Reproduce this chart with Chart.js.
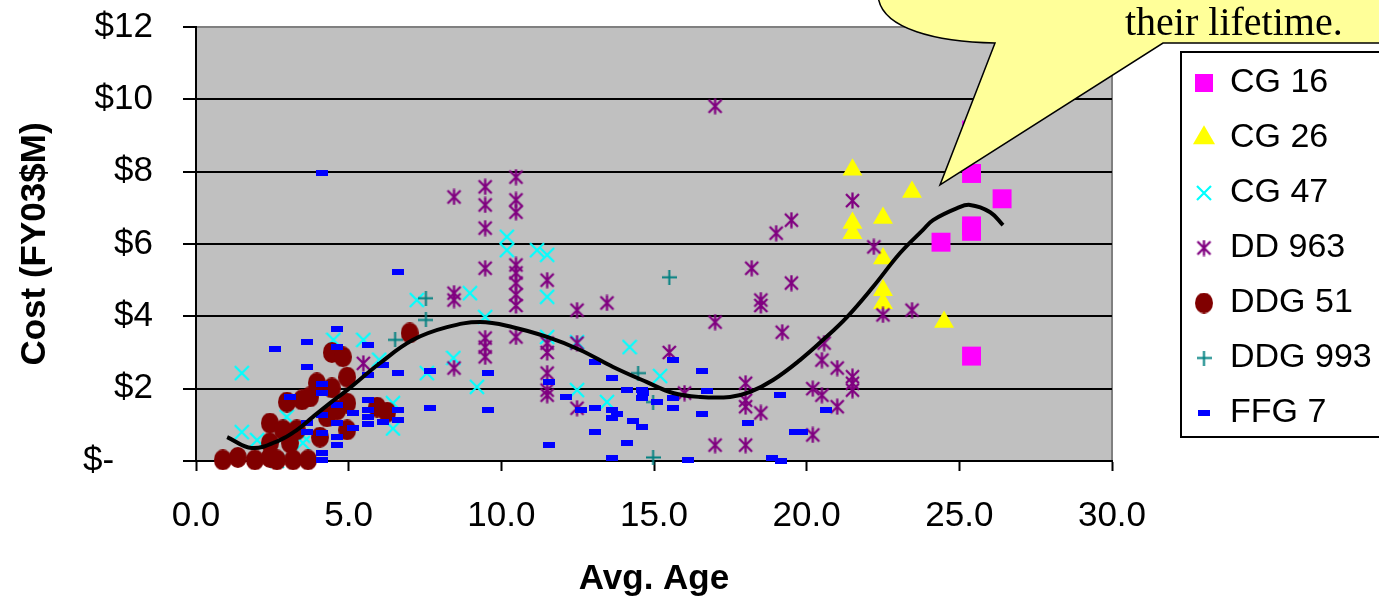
<!DOCTYPE html>
<html>
<head>
<meta charset="utf-8">
<script src="https://cdn.jsdelivr.net/npm/chart.js@4.4.1/dist/chart.umd.min.js"></script>
<style>
  html, body { margin: 0; padding: 0; background: #fff; }
  #wrap { width: 1379px; height: 600px; position: relative; }
</style>
</head>
<body>
<div id="wrap"><canvas id="cost-chart"></canvas></div>
<script>
// data: [avg age, cost $M]
var cg16 = [[24.4,6.05],[25.4,9.15],[25.4,7.95],[25.4,6.5],[25.4,6.35],[25.4,2.9],[26.4,7.25]];
var cg26 = [[21.5,8.05],[23.45,7.44],[22.5,6.72],[21.5,6.58],[21.5,6.3],[22.5,5.6],[22.5,4.72],[22.5,4.36],[24.5,3.84]];
var cg47 = [[1.5,2.43],[1.5,0.8],[2.0,0.58],[2.65,0.0],[2.97,1.22],[3.5,0.5],[3.5,0.7],[4.5,3.35],[5.48,3.35],
  [6.0,2.8],[6.45,1.6],[6.45,0.9],[7.23,4.45],[7.56,2.43],[8.43,2.85],[8.97,4.64],[9.2,2.05],[9.47,3.98],
  [10.18,6.2],[10.18,5.83],[11.17,5.83],[11.5,5.7],[11.5,4.54],[11.5,3.43],[12.48,3.29],[12.48,1.96],
  [13.46,1.63],[14.2,3.15],[15.2,2.35]];
var dd963 = [[5.48,2.7],[8.45,7.3],[8.45,4.64],[8.45,4.45],[8.45,2.57],[9.47,7.58],[9.47,7.08],[9.47,6.44],
  [9.47,5.33],[9.47,3.4],[9.47,3.15],[9.47,2.88],[10.48,7.85],[10.48,7.22],[10.48,6.88],[10.48,5.42],
  [10.48,5.2],[10.48,4.92],[10.48,4.6],[10.48,4.3],[10.48,3.43],[11.5,5.0],[11.5,3.26],[11.5,3.0],
  [11.5,2.43],[11.5,1.96],[11.5,1.82],[12.48,4.17],[12.48,3.26],[12.48,1.46],[13.46,4.37],[15.5,3.0],
  [16.0,1.88],[17.0,9.81],[17.0,3.84],[17.0,0.44],[18.0,2.15],[18.0,1.68],[18.0,1.5],[18.0,0.44],
  [18.2,5.33],[18.5,4.45],[18.5,4.3],[18.5,1.33],[19.0,6.3],[19.2,3.56],[19.5,6.66],[19.5,4.92],
  [20.2,2.0],[20.2,0.72],[20.5,2.79],[20.5,1.82],[20.57,3.26],[21.0,2.57],[21.0,1.5],[21.5,7.2],
  [21.5,2.33],[21.5,2.15],[21.5,1.96],[22.2,5.92],[22.5,4.04],[23.45,4.17]];
var ddg51 = [[0.88,0.03],[1.37,0.1],[1.93,0.03],[2.42,0.1],[2.42,0.5],[2.42,1.05],[2.65,0.03],[2.85,0.86],
  [2.98,1.63],[3.08,0.5],[3.18,0.03],[3.3,0.86],[3.47,1.69],[3.67,0.03],[3.73,1.77],[3.96,2.16],
  [4.06,0.66],[4.29,1.22],[4.45,3.0],[4.45,2.02],[4.62,1.41],[4.81,2.88],[4.95,2.32],[4.95,1.6],
  [4.95,0.86],[5.93,1.49],[6.26,1.35],[7.0,3.54]];
var ddg993 = [[6.52,3.35],[7.53,4.5],[7.53,3.9],[14.48,2.43],[14.97,1.63],[14.97,0.1],[15.5,5.08]];
var ffg7 = [[2.59,3.1],[3.08,1.77],[3.64,3.29],[3.64,2.6],[3.64,1.05],[3.64,0.8],[4.13,7.96],[4.13,2.13],
  [4.13,1.88],[4.13,1.27],[4.13,0.77],[4.13,0.22],[4.13,0.03],[4.62,3.65],[4.62,3.15],[4.62,1.55],
  [4.62,1.05],[4.62,0.66],[4.62,0.44],[5.14,1.33],[5.14,0.91],[5.63,3.2],[5.63,2.38],[5.63,1.69],
  [5.63,1.41],[5.63,1.22],[5.63,1.02],[6.13,2.65],[6.13,1.08],[6.62,5.23],[6.62,2.43],[6.62,1.41],
  [6.62,1.13],[7.66,2.49],[7.66,1.46],[9.56,2.43],[9.56,1.41],[11.56,2.18],[11.56,0.44],[12.12,1.77],
  [12.61,1.41],[13.07,2.74],[13.07,1.46],[13.07,0.8],[13.62,2.29],[13.62,1.41],[13.62,1.19],[13.62,0.08],
  [13.79,1.3],[14.12,1.96],[14.12,0.5],[14.31,1.1],[14.6,1.96],[14.6,1.74],[14.6,0.94],[14.65,1.88],
  [15.1,1.63],[15.63,2.79],[15.63,1.74],[15.63,1.46],[16.12,0.03],[16.57,2.49],[16.57,1.3],[16.74,1.94],
  [18.08,1.05],[18.87,0.08],[19.13,1.82],[19.16,0.0],[19.62,0.8],[19.85,0.8],[20.63,1.41]];

// trend line
var trendX = [1.02,1.83,2.75,3.31,3.83,4.39,4.95,6.03,7.11,8.22,9.30,10.38,11.50,12.58,13.66,14.77,
  15.62,16.51,17.49,18.15,18.90,19.78,20.54,21.32,22.17,23.06,23.81,24.14,24.93,25.35,26.01,26.43];
var trendY = [0.66,0.36,0.58,0.86,1.22,1.60,1.96,2.71,3.35,3.70,3.84,3.70,3.43,3.07,2.60,2.18,
  1.88,1.77,1.77,1.91,2.24,2.79,3.35,3.98,4.81,5.75,6.39,6.66,6.99,7.08,6.88,6.52];

var yTicks = [0, 2, 4, 6, 8, 10, 12];

function pts(list) {
  return list.map(p => ({x: p[0], y: p[1]}));
}

// custom markers
function marker(w, h, draw) {
  var c = document.createElement('canvas');
  c.width = w; c.height = h;
  draw(c.getContext('2d'), w, h);
  return c;
}
var ovalMark = marker(18, 21, function(g, w, h) {
  g.fillStyle = '#800000';
  g.beginPath();
  g.ellipse(w / 2, h / 2, w / 2, h / 2, 0, 0, Math.PI * 2);
  g.fill();
});
var dashMark = marker(12, 6, function(g, w, h) {
  g.fillStyle = '#0000FF';
  g.fillRect(0, 0, w, h);
});
var starMark = marker(17, 17, function(g, w, h) {
  g.strokeStyle = '#800080';
  g.lineWidth = 2.3;
  g.beginPath();
  g.moveTo(2, 2); g.lineTo(15, 15);
  g.moveTo(15, 2); g.lineTo(2, 15);
  g.moveTo(8.5, 0.5); g.lineTo(8.5, 16.5);
  g.stroke();
});
var xMark = marker(16, 16, function(g, w, h) {
  g.strokeStyle = '#00FFFF';
  g.lineWidth = 2.2;
  g.beginPath();
  g.moveTo(1, 1); g.lineTo(15, 15);
  g.moveTo(15, 1); g.lineTo(1, 15);
  g.stroke();
});
var plusMark = marker(15, 15, function(g, w, h) {
  g.strokeStyle = '#008080';
  g.lineWidth = 2;
  g.beginPath();
  g.moveTo(0, 7.5); g.lineTo(15, 7.5);
  g.moveTo(7.5, 0); g.lineTo(7.5, 15);
  g.stroke();
});

// grey plot area
var plotBg = {
  id: 'plotBg',
  beforeDraw(chart) {
    var a = chart.chartArea, ctx = chart.ctx;
    ctx.save();
    ctx.fillStyle = '#C0C0C0';
    ctx.fillRect(a.left, a.top, a.right - a.left, a.bottom - a.top);
    ctx.strokeStyle = '#808080';
    ctx.lineWidth = 2;
    ctx.strokeRect(a.left, a.top, a.right - a.left, a.bottom - a.top);
    ctx.restore();
  }
};

// put legend where it sits in the picture
var placeLegend = {
  id: 'placeLegend',
  afterLayout(chart) {
    var lg = chart.legend;
    lg.left = 1174; lg.top = 45; lg.right = 1379; lg.bottom = 600;
    lg.width = 205; lg.height = 555;
  }
};

// legend frame + callout bubble
var overlay = {
  id: 'overlay',
  afterDraw(chart) {
    var ctx = chart.ctx;
    ctx.save();
    ctx.strokeStyle = '#000';
    ctx.lineWidth = 2;
    ctx.strokeRect(1181, 52, 230, 385);

    ctx.beginPath();
    ctx.moveTo(878, -5);
    ctx.bezierCurveTo(880, 30, 940, 42, 995, 43);
    ctx.lineTo(940, 185);
    ctx.lineTo(1163, 43);
    ctx.lineTo(1400, 43);
    ctx.lineTo(1400, -5);
    ctx.closePath();
    ctx.fillStyle = '#FFFF99';
    ctx.fill();
    ctx.lineWidth = 1.5;
    ctx.stroke();

    ctx.fillStyle = '#000';
    ctx.font = '40px "Liberation Serif", "Times New Roman", serif';
    ctx.textAlign = 'left';
    ctx.textBaseline = 'alphabetic';
    ctx.fillText('their lifetime.', 1125, 35);
    ctx.restore();
  }
};

Chart.defaults.font.family = '"Liberation Sans", Arial, sans-serif';
Chart.defaults.color = '#000';

var ctx = document.getElementById('cost-chart');
var config = {
  type: 'scatter',
  data: {
    datasets: [
      { label: 'trend', data: trendX.map((x, i) => ({x: x, y: trendY[i]})), showLine: true,
        borderColor: '#000', borderWidth: 4, pointRadius: 0, tension: 0.4, order: 0, clip: false },
      { label: 'FFG 7', data: pts(ffg7), pointStyle: dashMark, backgroundColor: '#0000FF',
        borderColor: '#0000FF', order: 1, clip: false },
      { label: 'DDG 993', data: pts(ddg993), pointStyle: plusMark, backgroundColor: '#008080',
        borderColor: '#008080', order: 2, clip: false },
      { label: 'DDG 51', data: pts(ddg51), pointStyle: ovalMark, backgroundColor: '#800000',
        borderColor: '#800000', order: 3, clip: false },
      { label: 'DD 963', data: pts(dd963), pointStyle: starMark, backgroundColor: '#800080',
        borderColor: '#800080', order: 4, clip: false },
      { label: 'CG 47', data: pts(cg47), pointStyle: xMark, backgroundColor: '#00FFFF',
        borderColor: '#00FFFF', order: 5, clip: false },
      { label: 'CG 26', data: pts(cg26), pointStyle: 'triangle', pointRadius: 11.5, borderWidth: 0,
        borderColor: '#FFFF00', backgroundColor: '#FFFF00', order: 6, clip: false },
      { label: 'CG 16', data: pts(cg16), pointStyle: 'rect', pointRadius: 13.4, borderWidth: 0,
        borderColor: '#FF00FF', backgroundColor: '#FF00FF', order: 7, clip: false }
    ]
  },
  options: {
    responsive: true,
    maintainAspectRatio: false,
    animation: false,
    layout: { padding: { top: 27, right: 267, left: 0, bottom: 0 } },
    plugins: {
      tooltip: { enabled: false },
      legend: {
        position: 'chartArea',
        align: 'start',
        reverse: true,
        labels: {
          usePointStyle: true,
          boxWidth: 18,
          boxHeight: 18,
          padding: 21,
          color: '#000',
          font: { size: 34 },
          filter: item => item.text !== 'trend'
        }
      }
    },
    scales: {
      x: {
        type: 'linear',
        min: 0, max: 30,
        afterFit: s => { s.height = 139; },
        ticks: { stepSize: 5, padding: 24, font: { size: 35 }, color: '#000',
          callback: v => v.toFixed(1) },
        grid: { drawOnChartArea: false, tickLength: 10, tickColor: '#000', tickWidth: 2 },
        border: { color: '#000', width: 2 },
        title: { display: true, text: 'Avg. Age', color: '#000',
          font: { size: 35, weight: 'bold' }, padding: { top: 0, bottom: 0 } }
      },
      y: {
        min: 0, max: 12,
        afterFit: s => { s.width = 196; s.paddingTop = 0; s.paddingBottom = 0; },
        afterBuildTicks: s => { s.ticks = yTicks.map(v => ({value: v})); },
        ticks: { padding: 30, font: { size: 35 }, color: '#000',
          callback: v => v === 0 ? '$-    ' : '$' + v },
        grid: { color: c => (c.tick && c.tick.value === 12) ? '#808080' : '#000',
          lineWidth: 2, tickLength: 13, tickColor: '#000', tickWidth: 2 },
        border: { color: '#000', width: 2 },
        title: { display: true, text: 'Cost (FY03$M)', color: '#000',
          font: { size: 35, weight: 'bold' }, padding: { top: 14, bottom: 0 } }
      }
    }
  },
  plugins: [plotBg, placeLegend, overlay]
};

var myChart = new Chart(ctx, config);
</script>
</body>
</html>
